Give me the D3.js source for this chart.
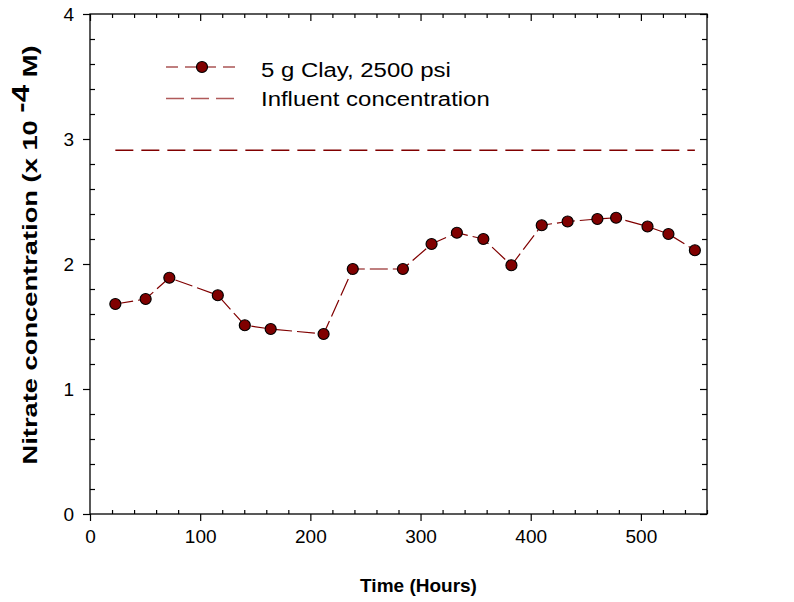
<!DOCTYPE html>
<html>
<head>
<meta charset="utf-8">
<script src="https://cdn.jsdelivr.net/npm/d3@7"></script>
<style>
  html, body { margin: 0; padding: 0; background: #fff; }
  svg { display: block; font-family: Arial, "Liberation Sans", sans-serif; }
</style>
</head>
<body>
<svg id="chart" width="794" height="602"></svg>
<script>
// ---- data ----
const timeHours = [23, 50.5, 72, 116, 140.5, 164, 212, 238.5, 284, 310, 333, 357, 382.5, 410, 433.5, 460.5, 477.5, 506, 525, 549];
const nitrate   = [1.68, 1.72, 1.89, 1.75, 1.51, 1.48, 1.44, 1.96, 1.96, 2.16, 2.25, 2.20, 1.99, 2.31, 2.34, 2.36, 2.37, 2.30, 2.24, 2.11];
const influentTime = [23, 549];
const influentValue = [2.91, 2.91];
const xTicks = [0, 100, 200, 300, 400, 500];
const yTicks = [0, 1, 2, 3, 4];
const seriesNames = ["5 g Clay, 2500 psi", "Influent concentration"];

// ---- layout ----
const svg = d3.select("#chart");
const L = 90, R = 707, T = 14, B = 514;
const x = d3.scaleLinear().domain([0, 560]).range([L, R]);
const y = d3.scaleLinear().domain([0, 4]).range([B, T]);
const dark = "#800000";
const SX = 1.14; // horizontal glyph stretch seen in the reference legend

const xMinor = d3.range(0, 561, 20).filter(v => v % 100 !== 0);
const yMinor = d3.range(0, 4.001, 0.2).map(v => +v.toFixed(1)).filter(v => Math.abs(v - Math.round(v)) > 1e-6);

// bottom axis: major outward, minor inward
const gB = svg.append("g").attr("transform", `translate(0,${B})`);
gB.call(d3.axisBottom(x).tickValues(xTicks).tickSize(7).tickPadding(9).tickFormat(d3.format("d")));
gB.append("g").call(d3.axisTop(x).tickValues(xMinor).tickSize(4).tickFormat(""));
// top axis inward
const gT = svg.append("g").attr("transform", `translate(0,${T})`);
gT.call(d3.axisBottom(x).tickValues(xTicks).tickSize(7).tickFormat(""));
gT.append("g").call(d3.axisBottom(x).tickValues(xMinor).tickSize(4).tickFormat(""));
// left axis: major outward, minor inward
const gL = svg.append("g").attr("transform", `translate(${L},0)`);
gL.call(d3.axisLeft(y).tickValues(yTicks).tickSize(7).tickPadding(9).tickFormat(d3.format("d")));
gL.append("g").call(d3.axisRight(y).tickValues(yMinor).tickSize(5).tickFormat(""));
// right axis inward
const gR = svg.append("g").attr("transform", `translate(${R},0)`);
gR.call(d3.axisLeft(y).tickValues(yTicks).tickSize(7).tickFormat(""));
gR.append("g").call(d3.axisLeft(y).tickValues(yMinor).tickSize(5).tickFormat(""));

svg.selectAll(".domain").remove();
svg.selectAll(".tick line").attr("stroke", "#000").attr("stroke-width", 1.2);
svg.selectAll(".tick text").attr("font-size", 19).attr("fill", "#000")
   .attr("font-family", "Arial, 'Liberation Sans', sans-serif");
svg.append("rect").attr("x", L).attr("y", T).attr("width", R - L).attr("height", B - T)
   .attr("fill", "none").attr("stroke", "#000").attr("stroke-width", 1.3);

// ---- influent line ----
const infl = influentTime.map((t, i) => [t, influentValue[i]]);
svg.append("path").datum(infl)
  .attr("d", d3.line().x(d => x(d[0])).y(d => y(d[1])))
  .attr("fill", "none").attr("stroke", dark).attr("stroke-width", 1.3)
  .attr("stroke-dasharray", "18,8");

// ---- data line ----
const pts = timeHours.map((t, i) => [t, nitrate[i]]);
svg.append("path").datum(pts)
  .attr("d", d3.line().x(d => x(d[0])).y(d => y(d[1])))
  .attr("fill", "none").attr("stroke", dark).attr("stroke-width", 1.2)
  .attr("stroke-dasharray", "18,5");
svg.selectAll("circle.pt").data(pts).enter().append("circle")
  .attr("class", "pt")
  .attr("cx", d => x(d[0])).attr("cy", d => y(d[1])).attr("r", 5.5)
  .attr("fill", dark).attr("stroke", "#000").attr("stroke-width", 1.2);

// ---- legend ----
const lg = svg.append("g");
lg.append("line").attr("x1", 166).attr("x2", 237).attr("y1", 67).attr("y2", 67)
  .attr("stroke", dark).attr("stroke-width", 1.2).attr("stroke-dasharray", "12,7");
lg.append("circle").attr("cx", 202).attr("cy", 67).attr("r", 5.5)
  .attr("fill", dark).attr("stroke", "#000").attr("stroke-width", 1.2);
lg.append("line").attr("x1", 166).attr("x2", 237).attr("y1", 98.5).attr("y2", 98.5)
  .attr("stroke", "#b05a5a").attr("stroke-width", 1.3).attr("stroke-dasharray", "18,7");
lg.append("g").attr("transform", `translate(261,77) scale(${SX},1)`)
  .append("text").attr("font-size", 21).text(seriesNames[0]);
lg.append("g").attr("transform", `translate(261,106) scale(${SX},1)`)
  .append("text").attr("font-size", 21).text(seriesNames[1]);

// ---- axis titles ----
svg.append("text").attr("x", x(300) - 2).attr("y", 592).attr("text-anchor", "middle")
  .attr("font-size", 19).attr("font-weight", "bold").text("Time (Hours)");
const yt = svg.append("g")
  .attr("transform", `translate(37,255) rotate(-90) scale(1.3,1)`)
  .append("text").attr("text-anchor", "middle").attr("font-size", 21).attr("font-weight", "bold");
yt.append("tspan").text("Nitrate concentration (x 10 ");
yt.append("tspan").attr("dy", -8).attr("font-size", 24).text("-4");
yt.append("tspan").attr("dy", 8).text(" M)");
</script>
</body>
</html>
